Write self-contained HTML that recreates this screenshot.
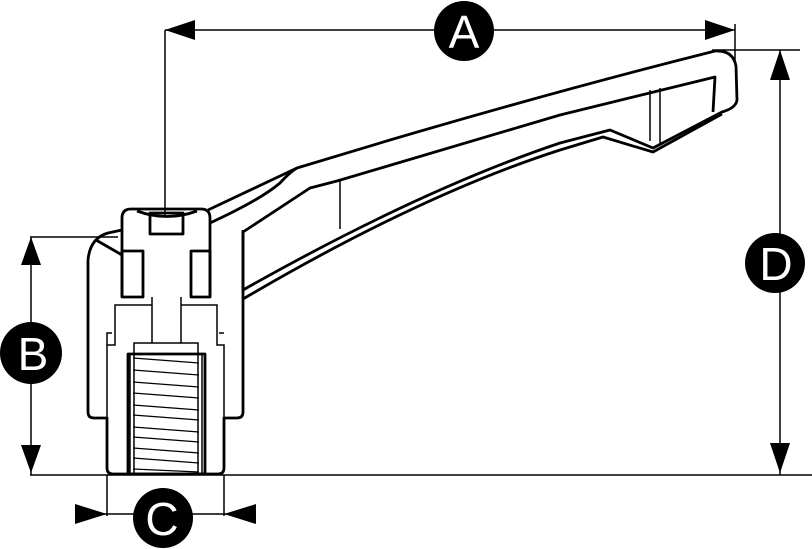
<!DOCTYPE html>
<html><head><style>html,body{margin:0;padding:0;background:#fff}svg{display:block}</style></head>
<body>
<svg width="812" height="549" viewBox="0 0 812 549" xmlns="http://www.w3.org/2000/svg">
<g fill="none" stroke="#000" stroke-width="1.5">
<line x1="165" y1="30" x2="735" y2="30"/>
<line x1="165" y1="30" x2="165" y2="215"/>
<line x1="735" y1="24" x2="735" y2="62"/>
<line x1="712" y1="50" x2="800" y2="50"/>
<line x1="780" y1="50" x2="780" y2="475"/>
<line x1="30" y1="475" x2="812" y2="475"/>
<line x1="30" y1="237" x2="118" y2="237"/>
<line x1="31" y1="237" x2="31" y2="475"/>
<line x1="107" y1="475" x2="107" y2="516"/>
<line x1="224" y1="475" x2="224" y2="516"/>
<line x1="75" y1="514" x2="255" y2="514"/>
</g>
<g fill="#000">
<polygon points="165,30 195,20 195,40"/>
<polygon points="735,30 705,20 705,40"/>
<polygon points="780,50 770,80 790,80"/>
<polygon points="780,473 770,443 790,443"/>
<polygon points="31,237 21,265 41,265"/>
<polygon points="31,473 21,445 41,445"/>
<polygon points="107,514 75,504 75,524"/>
<polygon points="224,514 256,504 256,524"/>
<circle cx="464" cy="31" r="30"/>
<circle cx="775" cy="263" r="30"/>
<circle cx="31" cy="353" r="31"/>
<circle cx="163" cy="518" r="30"/>
</g>
<g fill="#fff" font-family="Liberation Sans, sans-serif" font-size="46" text-anchor="middle">
<text x="464" y="48">A</text>
<text x="776" y="280">D</text>
<text x="33" y="370">B</text>
<text x="162" y="535">C</text>
</g>
<g fill="none" stroke="#000" stroke-width="2.8" stroke-linejoin="round">
<path d="M122,297 L122,218 Q122,209 131,209 L201,209 Q210,209 210,218 L210,297"/>
<path d="M137,211 Q167,222 197,211"/>
<rect x="150" y="213" width="33" height="21"/>
<rect x="122" y="251" width="21" height="46"/>
<rect x="191" y="251" width="19" height="46"/>
<path d="M122,230 L108,233 Q90,238 88,260 L88,412 Q88,418 94,418 L107,418 L107,468 Q107,474 113,474 L218,474 Q224,474 224,468 L224,418 L237,418 Q243,418 243,412 L243,230"/>
<path d="M96,240 L122,255"/>
<rect x="128" y="354" width="77" height="120"/>
</g>
<g fill="none" stroke="#000" stroke-width="1.5">
<path d="M152,297 L152,343 M181,297 L181,343"/>
<path d="M107,418 L107,345 L115,345 L115,305 L152,305 M224,418 L224,345 L217,345 L217,305 L181,305"/>
<path d="M107,345 L107,333 L112,333 M224,333 L219,333"/>
<rect x="134" y="343" width="64" height="131"/>
<line x1="130" y1="354" x2="130" y2="474"/><line x1="202" y1="354" x2="202" y2="474"/>
<g stroke-width="1.3">
<line x1="133" y1="358" x2="199" y2="363"/><line x1="133" y1="370" x2="199" y2="375"/>
<line x1="133" y1="382" x2="199" y2="387"/><line x1="133" y1="393" x2="199" y2="398"/>
<line x1="133" y1="405" x2="199" y2="410"/><line x1="133" y1="415" x2="199" y2="420"/>
<line x1="133" y1="427" x2="199" y2="432"/><line x1="133" y1="437" x2="199" y2="442"/>
<line x1="133" y1="448" x2="199" y2="453"/><line x1="133" y1="458" x2="199" y2="463"/>
<line x1="133" y1="469" x2="199" y2="472"/>
</g>
</g>
<g fill="none" stroke="#000" stroke-width="2.8" stroke-linejoin="round">
<path d="M208,210 L297,168 L390,140 Q560,90 715,51 Q733,50 736,66 L737,100 Q736,108 722,112 L653,148 L610,130 L560,143 Q420,190 243,290"/>
<path d="M210,223 Q260,200 280,183 Q290,172 297,168"/>
<path d="M243,232 L243,292 M243,232 L310,188 L337,181 L560,115 L715,77 L713,112"/>
<path d="M243,299 Q420,195 560,150 L603,137 L653,152 L722,114"/>
</g>
<g stroke="#000" stroke-width="1.5">
<line x1="340" y1="181" x2="340" y2="229"/>
<line x1="650" y1="90" x2="650" y2="141"/>
<line x1="660" y1="88" x2="660" y2="144"/>
</g>
</svg>
</body></html>
